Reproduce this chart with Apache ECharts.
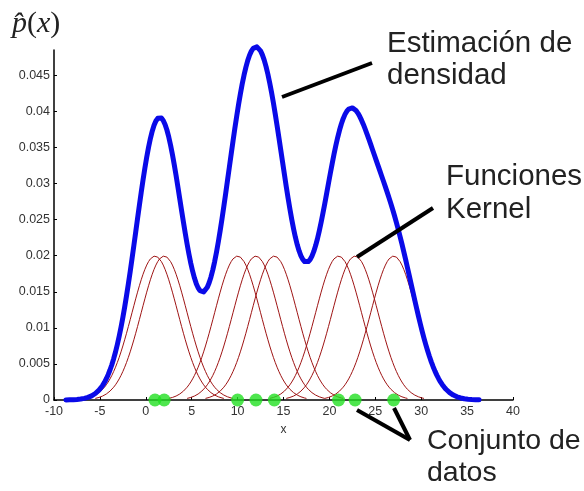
<!DOCTYPE html>
<html><head><meta charset="utf-8">
<script src="https://cdn.jsdelivr.net/npm/echarts@6/dist/echarts.min.js"></script>
<style>html,body{margin:0;padding:0;background:#fff}#c{width:584px;height:491px}</style>
</head><body><div id="c"></div>
<script>
// Data
const dataPoints = [1, 2, 10, 12, 14, 21, 22.8, 27];   // observed sample (green dots)
const bandwidth = 2.5;                                 // Gaussian kernel width
const densityRange = [-8.7, 36.3];                     // x-span of the density curve
const kernelHalfSpan = 7.5;                            // x-span of each kernel around its point
const sampleStep = 0.2;
const xTicks = [-10, -5, 0, 5, 10, 15, 20, 25, 30, 35, 40];
const yTicks = [0, 0.005, 0.01, 0.015, 0.02, 0.025, 0.03, 0.035, 0.04, 0.045];
const yTickLabels = ['0', '0.005', '0.01', '0.015', '0.02', '0.025', '0.03', '0.035', '0.04', '0.045'];

const n = dataPoints.length;
function kernel(x, xi) {
  const u = (x - xi) / bandwidth;
  return Math.exp(-0.5 * u * u) / (n * bandwidth * Math.sqrt(2 * Math.PI));
}
function grid(a, b) {
  const out = [];
  for (let x = a; x <= b + 1e-9; x += sampleStep) out.push(+x.toFixed(4));
  return out;
}
const kernelSeries = dataPoints.map(xi => ({
  type: 'line', showSymbol: false, silent: true, z: 2,
  lineStyle: { color: '#9e1414', width: 1 },
  data: grid(xi - kernelHalfSpan, xi + kernelHalfSpan).map(x => [x, kernel(x, xi)])
}));
const densityData = grid(densityRange[0], densityRange[1]).map(x => [x, dataPoints.reduce((s, xi) => s + kernel(x, xi), 0)]);

const chart = echarts.init(document.getElementById('c'));
const axisFont = { fontFamily: 'Liberation Sans, Arial, sans-serif', fontSize: 12.5, color: '#333' };
const annFont = '29.5px "Liberation Sans", Arial, sans-serif';
chart.setOption({
  backgroundColor: '#ffffff',
  animation: false,
  grid: { left: 54, right: 71, top: 50, bottom: 91 },
  xAxis: {
    type: 'value', min: -10, max: 40, interval: 5,
    name: 'x', nameLocation: 'middle', nameGap: 24,
    nameTextStyle: { fontFamily: 'Liberation Sans, Arial, sans-serif', fontSize: 12, color: '#333' },
    axisLine: { show: true, onZero: false, lineStyle: { color: '#000', width: 1.5 } },
    axisTick: { show: true, inside: true, length: 3, lineStyle: { color: '#000' }, customValues: xTicks },
    axisLabel: Object.assign({ margin: 5, customValues: xTicks, formatter: v => String(v) }, axisFont),
    splitLine: { show: false }
  },
  yAxis: {
    type: 'value', min: 0, max: 0.0485,
    axisLine: { show: true, onZero: false, lineStyle: { color: '#000', width: 1.5 } },
    axisTick: { show: true, inside: true, length: 3, lineStyle: { color: '#000' }, customValues: yTicks },
    axisLabel: Object.assign({ margin: 4, customValues: yTicks,
      formatter: v => { const i = yTicks.findIndex(t => Math.abs(t - v) < 1e-9); return i >= 0 ? yTickLabels[i] : ''; } }, axisFont),
    splitLine: { show: false }
  },
  series: kernelSeries.concat([
    { type: 'line', showSymbol: false, silent: true, z: 3, clip: false,
      lineStyle: { color: '#0a0ae8', width: 5, cap: 'round', join: 'round' },
      data: densityData },
    { type: 'scatter', symbol: 'circle', symbolSize: 13, z: 4, clip: false,
      itemStyle: { color: '#22e022' },
      data: dataPoints.map(x => [x, 0]) }
  ]),
  graphic: [
    { type: 'text', left: 12, top: 9, z: 10,
      style: { text: '{i|p̂}{u|(}{i|x}{u|)}',
        rich: { i: { fontFamily: 'Liberation Serif, DejaVu Serif, serif', fontStyle: 'italic', fontSize: 30, fill: '#222' },
                u: { fontFamily: 'Liberation Serif, DejaVu Serif, serif', fontSize: 30, fill: '#222' } } } },
    { type: 'text', left: 387, top: 28, z: 10,
      style: { text: 'Estimación de\ndensidad', font: annFont, fill: '#222', lineHeight: 32 } },
    { type: 'text', left: 446, top: 160, z: 10,
      style: { text: 'Funciones\nKernel', font: annFont, fill: '#222', lineHeight: 33 } },
    { type: 'text', left: 427, top: 425, z: 10,
      style: { text: 'Conjunto de\ndatos', font: '28.5px "Liberation Sans", Arial, sans-serif', fill: '#222', lineHeight: 32 } },
    { type: 'line', z: 10, shape: { x1: 282, y1: 97, x2: 372, y2: 63 }, style: { stroke: '#000', lineWidth: 4 } },
    { type: 'line', z: 10, shape: { x1: 357, y1: 257, x2: 433, y2: 208 }, style: { stroke: '#000', lineWidth: 4 } },
    { type: 'line', z: 10, shape: { x1: 357, y1: 410, x2: 410, y2: 440 }, style: { stroke: '#000', lineWidth: 4 } },
    { type: 'line', z: 10, shape: { x1: 394, y1: 408, x2: 410, y2: 440 }, style: { stroke: '#000', lineWidth: 4 } }
  ]
});
</script></body></html>
